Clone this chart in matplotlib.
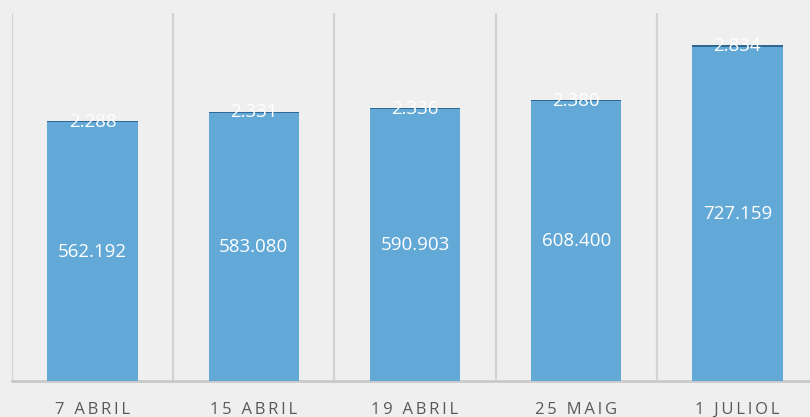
import matplotlib
matplotlib.use('Agg')
import matplotlib.pyplot as plt
import numpy as np

# dades del gràfic
categories = ['7 ABRIL', '15 ABRIL', '19 ABRIL', '25 MAIG', '1 JULIOL']
main_vals = [562192, 583080, 590903, 608400, 727159]
top_vals = [2288, 2331, 2336, 2380, 2834]
main_labels = ['562.192', '583.080', '590.903', '608.400', '727.159']
top_labels = ['2.288', '2.331', '2.336', '2.380', '2.834']

bg = '#efefef'
bar_col = '#63a9d7'
top_col = '#2f6892'

fig = plt.figure(figsize=(8.1, 4.17), dpi=100, facecolor=bg)
ax = fig.add_axes([12/810, 36/417, 806/810, 368/417])
ax.set_facecolor(bg)

x = np.arange(len(categories))
w = 0.56
ax.bar(x, main_vals, w, color=bar_col, zorder=3)
ax.bar(x, top_vals, w, bottom=main_vals, color=top_col, zorder=3)

for i in range(len(x)):
    ax.text(x[i], main_vals[i] / 2, main_labels[i], ha='center', va='center',
            color='white', fontsize=13.5, family='Open Sans', zorder=4)
    ax.text(x[i], main_vals[i] + top_vals[i] / 2, top_labels[i], ha='center',
            va='center', color='white', fontsize=13.5, family='Open Sans', zorder=4)

# separadors verticals entre categories
for b in np.arange(-0.5, len(x), 1.0):
    ax.axvline(b, color='#d3d3d3', lw=1.6, zorder=1)

ax.set_xlim(-0.5, len(x) - 0.5)
ax.set_ylim(0, 800000)
ax.set_yticks([])
ax.set_xticks(x)
spaced = ['\u2009'.join(c) for c in categories]
ax.set_xticklabels(spaced, color='#595959', fontsize=12,
                   family=['Open Sans', 'DejaVu Sans'])
ax.tick_params(axis='x', length=0, pad=15)
for s in ['top', 'right', 'left']:
    ax.spines[s].set_visible(False)
ax.spines['bottom'].set_color('#c9c9c9')
ax.spines['bottom'].set_linewidth(2)

fig.savefig('out.png', dpi=100, facecolor=bg)
